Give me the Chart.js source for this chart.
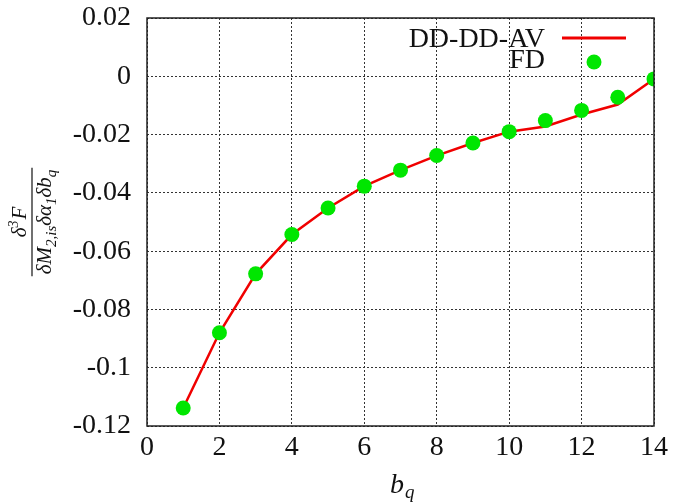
<!DOCTYPE html>
<html>
<head>
<meta charset="utf-8">
<script src="https://cdn.jsdelivr.net/npm/chart.js@4.4.1/dist/chart.umd.min.js"></script>
<style>
html,body{margin:0;padding:0;background:#fff;}
canvas{display:block;}
</style>
</head>
<body>
<canvas id="c" width="675" height="502"></canvas>
<script>
// ---- data ----
const bq = [1,2,3,4,5,6,7,8,9,10,11,12,13,14];
const ddddav = [-0.1138,-0.0880,-0.0678,-0.0543,-0.0452,-0.0377,-0.0322,-0.0272,-0.0229,-0.0190,-0.0172,-0.0131,-0.0097,-0.0009];
const fd = [-0.1138,-0.0880,-0.0678,-0.0543,-0.0452,-0.0377,-0.0322,-0.0272,-0.0229,-0.0190,-0.0152,-0.0117,-0.0072,-0.0009];
const seriesNames = ['DD-DD-AV','FD'];
const xTicks = [0,2,4,6,8,10,12,14];
const yTicks = [0.02,0,-0.02,-0.04,-0.06,-0.08,-0.1,-0.12];

const SERIF = '"Liberation Serif","DejaVu Serif",serif';
const RED = '#f00000';
const GREEN = '#00e600';

const toXY = (xs, ys) => xs.map((x,i)=>({x:x,y:ys[i]}));

const framePlugin = {
  id:'frame',
  afterDraw(chart){
    const {ctx, chartArea:a} = chart;
    ctx.save();
    // box
    ctx.strokeStyle = '#222';
    ctx.lineWidth = 1.5;
    ctx.strokeRect(a.left, a.top, a.right-a.left, a.bottom-a.top);
    // legend
    ctx.fillStyle = '#111';
    ctx.font = '28px ' + SERIF;
    ctx.textAlign = 'right';
    ctx.textBaseline = 'alphabetic';
    ctx.fillText(seriesNames[0], 545, 47);
    ctx.fillText(seriesNames[1], 545, 68);
    ctx.strokeStyle = RED;
    ctx.lineWidth = 3;
    ctx.beginPath(); ctx.moveTo(562, 38); ctx.lineTo(626, 38); ctx.stroke();
    ctx.fillStyle = GREEN;
    ctx.beginPath(); ctx.arc(594, 62, 7.5, 0, Math.PI*2); ctx.fill();

    // x title b_q
    ctx.fillStyle = '#111';
    ctx.textAlign = 'left';
    ctx.font = 'italic 28px ' + SERIF;
    ctx.fillText('b', 390, 493);
    const bw = ctx.measureText('b').width;
    ctx.font = 'italic 19px ' + SERIF;
    ctx.fillText('q', 390 + bw + 1, 498);

    // y title fraction
    ctx.translate(32, 222);
    ctx.rotate(-Math.PI/2);
    const big = 'italic 21px ' + SERIF, small = 'italic 15px ' + SERIF;
    const parts = [['δM',big,0],['2,is',small,5],['δα',big,0],['1',small,5],['δb',big,0],['q',small,5]];
    let total = 0;
    parts.forEach(p=>{ctx.font=p[1]; p.push(ctx.measureText(p[0]).width); total += p[3];});
    let x = -total/2;
    ctx.textAlign = 'left';
    parts.forEach(p=>{ctx.font=p[1]; ctx.fillText(p[0], x, 19 + p[2]); x += p[3];});
    // line
    ctx.strokeStyle = '#111'; ctx.lineWidth = 1.2;
    ctx.beginPath(); ctx.moveTo(-total/2 - 2, 0); ctx.lineTo(total/2 + 2, 0); ctx.stroke();
    // numerator δ³F
    ctx.font = big;
    const w1 = ctx.measureText('δ').width;
    ctx.font = 'italic 14px ' + SERIF;
    const w2 = ctx.measureText('3').width;
    ctx.font = big;
    const w3 = ctx.measureText('F').width;
    let nx = -(w1+w2+w3+1)/2;
    ctx.fillText('δ', nx, -6); nx += w1;
    ctx.font = 'italic 14px ' + SERIF;
    ctx.fillText('3', nx, -14); nx += w2 + 1;
    ctx.font = big;
    ctx.fillText('F', nx, -6);
    ctx.restore();
  }
};

new Chart(document.getElementById('c'), {
  type:'scatter',
  data:{
    datasets:[
      {label:seriesNames[1], data:toXY(bq, fd), showLine:false, pointRadius:7.5, pointHoverRadius:7.5,
       pointBackgroundColor:GREEN, pointBorderWidth:0, order:0},
      {label:seriesNames[0], data:toXY(bq, ddddav), showLine:true, borderColor:RED, borderWidth:2.5,
       pointRadius:0, tension:0, fill:false, order:1}
    ]
  },
  options:{
    responsive:false, animation:false,
    layout:{padding:{top:18, right:21, left:0, bottom:0}},
    plugins:{legend:{display:false}, tooltip:{enabled:false}},
    scales:{
      x:{type:'linear', min:0, max:14,
        afterBuildTicks(s){ s.ticks = xTicks.map(v=>({value:v})); },
        afterFit(s){ s.height = 76; s.paddingLeft = 0; s.paddingRight = 0; },
        ticks:{font:{family:SERIF, size:28}, color:'#111', padding:5, maxRotation:0, autoSkip:false},
        grid:{color:'#333', lineWidth:1, drawTicks:false},
        border:{display:false, dash:[2,2]}
      },
      y:{type:'linear', min:-0.12, max:0.02,
        afterBuildTicks(s){ s.ticks = yTicks.map(v=>({value:v})); },
        afterFit(s){ s.width = 147; s.paddingTop = 0; s.paddingBottom = 0; },
        ticks:{font:{family:SERIF, size:28}, color:'#111', padding:16, autoSkip:false,
          callback:(v)=>String(Number(Number(v).toFixed(2)))},
        grid:{color:'#333', lineWidth:1, drawTicks:false},
        border:{display:false, dash:[2,2]}
      }
    }
  },
  plugins:[framePlugin]
});
</script>
</body>
</html>
